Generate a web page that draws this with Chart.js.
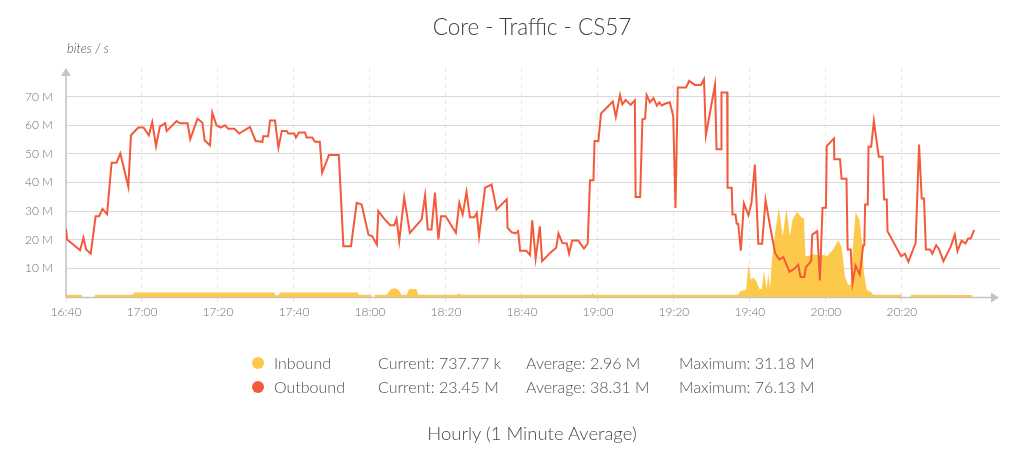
<!DOCTYPE html>
<html><head><meta charset="utf-8">
<script src="https://cdn.jsdelivr.net/npm/chart.js@4.4.1/dist/chart.umd.min.js"></script>
<style>
html,body{margin:0;padding:0;background:#fff;}
#wrap{position:relative;width:1024px;height:457px;font-family:Lato,"Open Sans",sans-serif;overflow:hidden;}
canvas{position:absolute;left:0;top:0;}
.t{position:absolute;white-space:nowrap;color:#515151;line-height:1;transform:translateY(-50%);font-weight:300;}
.c{transform:translate(-50%,-50%);}
.dot{position:absolute;width:12px;height:12px;border-radius:50%;transform:translate(-50%,-50%);}
</style></head><body>
<div id="wrap">
<canvas id="c" width="1024" height="457"></canvas>
<div class="t c" style="left:532px;top:27px;font-size:22.5px;color:#404040;">Core - Traffic - CS57</div>
<div class="t" style="left:67px;top:48px;font-size:13px;font-style:italic;color:#4a4a4a;">bites / s</div>
<div id="legend"></div>
<div class="t c" style="left:532px;top:433px;font-size:18.5px;color:#4a4a4a;">Hourly (1 Minute Average)</div>
</div>
<script>
// Time axis: minutes after 16:40
const startHour = 16, startMin = 40;
const xTickMinutes = [0, 20, 40, 60, 80, 100, 120, 140, 160, 180, 200, 220];
const yTickValues = [10, 20, 30, 40, 50, 60, 70]; // M bits/s

// Outbound series (minutes after 16:40, M bits/s)
const outMinutes = [0,0.3,3.7,4.6,5.3,6.5,7.8,8.7,9.6,10.8,12,13.3,14.3,16.4,17.1,19,20.4,21.8,22.7,23.7,24.7,26.1,26.5,27.8,29.1,30,32,32.7,34.6,35.9,36.5,37.9,38.5,39.6,40.7,41.8,42.7,44.3,45.6,48.4,49.9,51.7,51.9,53.2,53.7,55,55.9,56.8,58.1,58.5,60.1,60.5,61.3,62.9,63.3,64.8,65.5,66.8,67.4,69.2,71.8,73,75,76.5,77.8,79.6,80.6,81.8,82.2,83.5,85.3,86.4,87,87.7,89,90.5,93.6,94.5,95.2,96.2,97.1,98,98.7,99.9,102.6,103.5,104.4,105.4,106.3,107.5,108.1,108.7,110.3,112,113.3,116,116.2,117.3,118.3,119,119.5,121.1,122.1,122.7,123.6,124.7,125.3,127.4,129,129.6,130.6,131.8,132.4,133.2,134.8,136.3,137.3,137.9,138.8,139.1,140.1,140.8,143.9,144.7,145.8,146.4,147.3,148.6,149.7,149.9,151.1,151.7,152.4,152.8,153.7,154.6,155.5,156.1,156.8,157.6,158.9,159.8,160.4,161,163.2,164,165.5,167.1,167.9,168.4,170.8,171.2,172.4,172.5,174,174.1,175.2,175.4,176.2,176.5,176.9,177.6,178.4,179.6,180.4,181.3,182.2,183.2,184.1,185.3,186.6,187.7,188.8,190.4,191.7,192.7,193.3,194.3,194.7,196.1,196.4,197.7,198.4,199.1,200,200.2,202.1,202.2,203.7,204.1,205.4,205.7,206.5,207,207.8,208.9,209.8,210.1,210.3,211,211.2,211.9,212.6,213.9,214.9,215.3,216,216.2,219.8,220.8,221.7,223.6,224.5,225.2,225.8,226.3,227.4,228,229,229.8,230.9,232.8,233.9,234.6,235.7,236.7,237.4,238.1,239];
const outValues = [23.8,20.1,16.3,20.7,16.6,15.1,28.2,28.2,30.8,28.9,46.9,46.9,50.1,38.5,56.5,59.2,59.2,56.5,61.1,52.7,59.5,60.7,58,59.7,61.5,60.7,60.7,55.1,62.3,60.9,54.7,53,64.4,60,59.2,60,58.8,58.8,57.1,59.4,54.5,54.2,56.2,56.2,61.7,61.7,52.2,58,58,57.1,57.1,55.7,57.5,57.5,55.7,55.7,54.2,54.2,43.4,49.6,49.6,17.7,17.7,32.9,32.3,21.8,21.2,18.3,30,27.7,25.1,25.1,27.3,19.5,34.7,22.4,27.1,35.5,23.6,23.6,36.5,20.1,28.2,28.2,22.4,32.9,28.8,36.7,27.9,27.9,29.4,21.2,38.2,39.3,30.6,34.1,24.2,22.6,22.2,23,16.2,16.2,14.7,26.8,13.4,24.7,12.5,15.4,17.2,22.2,18.9,18.7,15.1,19.7,19.7,16.9,18.7,40.8,40.8,54.5,54.5,64.1,68.3,62.9,70.6,67.3,68.8,67.1,68.7,34.9,34.9,62.1,62.3,70.6,68,69.5,66.8,68,66.9,67.5,68,63.2,31.1,73.2,73.2,75.5,74.1,74.1,76.1,56.5,74.1,51.6,51.6,71.4,71.4,38.2,38.2,28.8,28.8,25.6,25.6,16.2,32.7,28.6,32.9,46.3,18.6,18.6,33.8,24.7,15.4,13.1,13.9,8.8,9.9,11.3,7,7,10.4,12.5,21.8,23,5.8,31.2,31.2,52.7,55.4,48.1,48.1,41.3,41.3,16.6,16.6,4.9,11,7.8,18.1,18.1,32.3,32.3,52.5,52.5,61.5,49,49,34.1,34.1,23,14.2,15.1,12.3,18.9,53.3,34.4,34.4,16.6,16.6,15.1,18.1,16.6,12.5,17.5,21.8,16,19.7,18.7,20.4,20.4,23.45];

// Inbound series (minutes after 16:40, M bits/s)
const inMinutes = [0,4.1,4.3,7.4,7.6,17.6,17.8,54.8,55.1,56,56.3,76.8,77,80.3,80.5,81.1,81.3,84.4,85.5,86.5,87.5,88.3,89.7,90.3,92.2,92.7,103,103.4,103.8,138.2,138.6,139,176.9,177.4,179,179.6,180.2,181,181.7,182.5,183.1,183.7,184.4,184.8,185.3,185.7,186.6,187.6,188.6,189.6,190.5,191.2,192.4,193.6,194.2,194.6,195.8,196.6,197.9,198.8,199.3,200.2,201.9,203.2,204.1,204.5,205,205.8,206.5,207,207.8,208.8,209.4,210,210.7,211.3,211.6,212.5,219.8,220,222.2,222.4,238.6];
const inValues = [0.8,0.8,0,0,0.8,0.8,1.6,1.6,0.6,0.6,1.6,1.6,0.8,0.8,0,0,0.8,0.8,2.8,3.1,2.5,0.8,0.8,2.8,2.8,0.8,0.8,1.4,0.8,0.8,1.2,0.8,0.8,2,2.6,11.7,6.1,6.7,5.5,2.8,2.8,9,2.8,8.2,2.8,11.9,22.4,31.18,21.2,31,21.2,27,29.8,27.7,27.7,14.2,14.5,15.1,14.5,14.5,14.8,14.2,16.6,19.7,17.7,13.1,7.2,4.3,4.3,16,29.6,27.1,20.1,8.4,2.6,2,2,0.8,0.8,0,0,0.8,0.74];

// Legend texts
const seriesNames = ['Inbound', 'Outbound'];
const seriesColors = ['#fdc94b', '#f35a3b'];
const currentText = ['Current: 737.77 k', 'Current: 23.45 M'];
const averageText = ['Average: 2.96 M', 'Average: 38.31 M'];
const maximumText = ['Maximum: 31.18 M', 'Maximum: 76.13 M'];

function fmtTime(m){
  const t = startHour*60 + startMin + m;
  const h = Math.floor(t/60), mm = t%60;
  return h + ':' + String(mm).padStart(2,'0');
}

// legend
const lg = document.getElementById('legend');
const rowsY = [363, 387];
seriesNames.forEach((n,i)=>{
  const y = rowsY[i];
  lg.insertAdjacentHTML('beforeend',
    `<div class="dot" style="left:258px;top:${y}px;background:${seriesColors[i]}"></div>`+
    `<div class="t" style="left:274px;top:${y}px;font-size:16px;">${n}</div>`+
    `<div class="t" style="left:378px;top:${y}px;font-size:16px;">${currentText[i]}</div>`+
    `<div class="t" style="left:526px;top:${y}px;font-size:16px;">${averageText[i]}</div>`+
    `<div class="t" style="left:679px;top:${y}px;font-size:16px;">${maximumText[i]}</div>`);
});

const axisArrows = {
  id:'axisArrows',
  beforeDatasetsDraw(chart){
    const {ctx, chartArea:a} = chart;
    ctx.save();
    ctx.strokeStyle = '#c4c4c4'; ctx.fillStyle = '#c4c4c4'; ctx.lineWidth = 1.5;
    ctx.beginPath();
    ctx.moveTo(a.left, a.bottom+0.5); ctx.lineTo(a.left, a.top+7);
    ctx.moveTo(a.left, a.bottom+0.5); ctx.lineTo(a.right-9, a.bottom+0.5);
    ctx.stroke();
    ctx.beginPath();
    ctx.moveTo(a.left-5, a.top+8); ctx.lineTo(a.left+5, a.top+8); ctx.lineTo(a.left, a.top); ctx.closePath(); ctx.fill();
    ctx.beginPath();
    ctx.moveTo(a.right-9, a.bottom-4.5); ctx.lineTo(a.right-9, a.bottom+5.5); ctx.lineTo(a.right-1, a.bottom+0.5); ctx.closePath(); ctx.fill();
    ctx.restore();
  }
};

new Chart(document.getElementById('c'), {
  type:'line',
  data:{
    datasets:[
      {label:seriesNames[1], data: outMinutes.map((m,i)=>({x:m,y:outValues[i]})),
       borderColor:seriesColors[1], borderWidth:2, pointRadius:0, fill:false, tension:0, order:0},
      {label:seriesNames[0], data: inMinutes.map((m,i)=>({x:m,y:inValues[i]})),
       borderColor:'rgba(0,0,0,0)', borderWidth:0, backgroundColor:seriesColors[0], pointRadius:0, fill:'origin', tension:0, order:1}
    ]
  },
  options:{
    responsive:false, animation:false, devicePixelRatio:1,
    layout:{padding:{left:0, right:24, top:68, bottom:130}},
    plugins:{legend:{display:false}, tooltip:{enabled:false}, title:{display:false}},
    scales:{
      x:{type:'linear', min:0, max:245.8,
        afterBuildTicks(s){ s.ticks = xTickMinutes.map(v=>({value:v})); },
        afterFit(s){ s.height = 30; },
        ticks:{callback:v=>fmtTime(v), color:'#707070', font:{family:'Lato', size:12, weight:300}, padding:3, maxRotation:0, autoSkip:false},
        grid:{color:'#e4e4e4', lineWidth:1, drawTicks:true, tickLength:5, tickColor:'#e4e4e4'},
        border:{display:false, dash:[4,4]}
      },
      y:{min:0, max:80,
        afterBuildTicks(s){ s.ticks = yTickValues.map(v=>({value:v})); },
        afterFit(s){ s.width = 66; },
        ticks:{callback:v=>v+' M', color:'#707070', font:{family:'Lato', size:12, weight:300}, padding:13},
        grid:{color:'#d9d9d9', lineWidth:1, drawTicks:false},
        border:{display:false}
      }
    }
  },
  plugins:[axisArrows]
});
</script>
</body></html>
